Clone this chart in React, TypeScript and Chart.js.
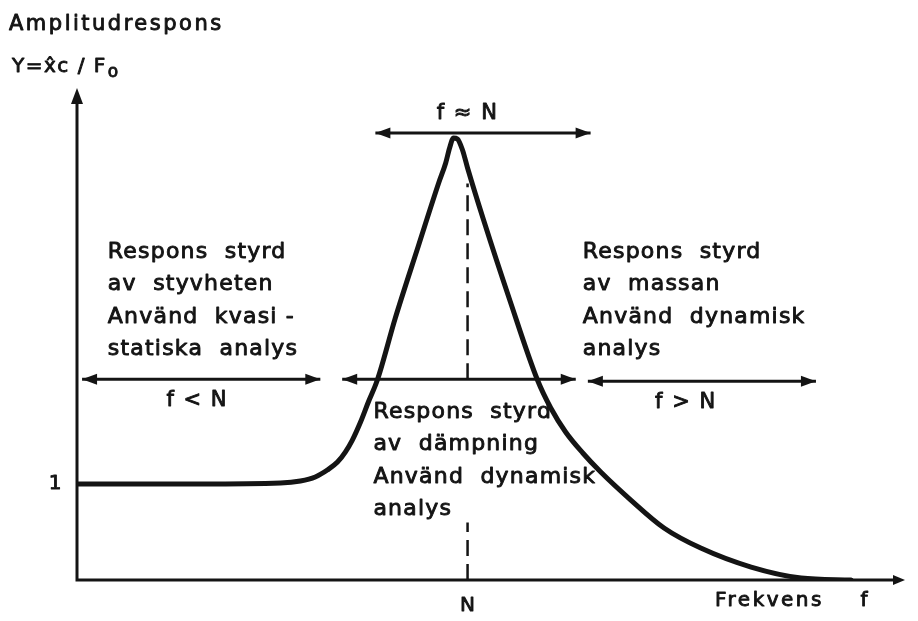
import { useEffect, useRef } from "react";
import { Chart, registerables } from "chart.js";

Chart.register(...registerables);

// Resonance frequency on the frequency axis (chart units)
const N = 1;
const X_MAX = 2.12;
const Y_MAX = 5.125;

// Amplitude response curve: frequency and amplitude (static response = 1)
const responseFreq = [
  0, 0.315, 0.521, 0.572, 0.61, 0.641, 0.667, 0.687, 0.705, 0.726, 0.746, 0.769,
  0.815, 0.874, 0.926, 0.944, 0.954, 0.964, 0.974, 0.987, 1.0, 1.041, 1.108,
  1.179, 1.213, 1.251, 1.295, 1.341, 1.418, 1.503, 1.597, 1.726, 1.854, 1.982,
];
const responseAmp = [
  1.0, 1.0, 1.01, 1.031, 1.073, 1.146, 1.229, 1.333, 1.458, 1.646, 1.854, 2.083,
  2.729, 3.479, 4.135, 4.344, 4.5, 4.604, 4.594, 4.479, 4.292, 3.75, 2.917,
  2.083, 1.792, 1.542, 1.323, 1.125, 0.833, 0.542, 0.333, 0.135, 0.021, 0,
];

// Frequency ranges shown as double arrows
const rangeFrom = [0.013, 0.679, 0.764, 1.308];
const rangeTo = [0.623, 1.277, 1.315, 1.892];
const rangeLevel = [2.09, 2.09, 4.656, 2.07];
const rangeLabels = ["f < N", "", "f \u2248 N", "f > N"];
const rangeLabelX = [0.308, 0, 1.0, 1.559];
const rangeLabelBelow = [true, true, false, true];

// Dashed marker at f = N (broken where the damping note sits)
const markerAmp = [0, 0.6, null, 2.09, 4.13];

// Notes for each region
const stiffnessNote = ["Respons  styrd", "av  styvheten", "Använd  kvasi -", "statiska  analys"];
const dampingNote = ["Respons  styrd", "av  dämpning", "Använd  dynamisk", "analys"];
const massNote = ["Respons  styrd", "av  massan", "Använd  dynamisk", "analys"];
const noteX = [0.079, 0.759, 1.295];
const noteTopY = [3.417, 1.75, 3.417];

const yTickValues = [1];
const yTickLabels = ["1"];
const xTickValues = [N];
const xTickLabels = ["N"];

const ink = "#141414";
const FONT = "'DejaVu Sans', sans-serif";

function arrowHead(
  ctx: CanvasRenderingContext2D,
  x: number,
  y: number,
  dx: number,
  dy: number,
  len: number,
  half: number
) {
  ctx.beginPath();
  ctx.moveTo(x, y);
  ctx.lineTo(x - dx * len - dy * half, y - dy * len + dx * half);
  ctx.lineTo(x - dx * len + dy * half, y - dy * len - dx * half);
  ctx.closePath();
  ctx.fill();
}

function spacedText(
  ctx: CanvasRenderingContext2D,
  text: string,
  x: number,
  y: number,
  size: number,
  spacing: number,
  align: CanvasTextAlign = "left"
) {
  ctx.font = `${size}px ${FONT}`;
  (ctx as any).letterSpacing = `${spacing}px`;
  ctx.textAlign = align;
  ctx.textBaseline = "middle";
  ctx.lineWidth = 0.9;
  ctx.lineJoin = "round";
  ctx.strokeStyle = ink;
  ctx.fillText(text, x, y);
  ctx.strokeText(text, x, y);
  (ctx as any).letterSpacing = "0px";
}

const diagramPlugin = {
  id: "diagramDecor",
  beforeDatasetsDraw(chart: any) {
    const { ctx, chartArea, scales } = chart;
    const y0 = scales.y.getPixelForValue(0);
    const x0 = scales.x.getPixelForValue(0);
    ctx.save();
    ctx.strokeStyle = ink;
    ctx.fillStyle = ink;
    ctx.lineWidth = 3;
    ctx.beginPath();
    ctx.moveTo(x0, y0);
    ctx.lineTo(x0, chartArea.top + 8);
    ctx.moveTo(x0 - 1.5, y0);
    ctx.lineTo(chartArea.right - 6, y0);
    ctx.stroke();
    arrowHead(ctx, x0, chartArea.top, 0, -1, 16, 6);
    arrowHead(ctx, chartArea.right, y0, 1, 0, 12, 5);
    ctx.restore();
  },
  afterDatasetsDraw(chart: any) {
    const { ctx, scales } = chart;
    const sx = scales.x;
    const sy = scales.y;
    ctx.save();
    ctx.fillStyle = ink;

    // arrowheads and labels of the frequency ranges
    rangeFrom.forEach((_, i) => {
      const meta = chart.getDatasetMeta(i + 2);
      const a = meta.data[0];
      const b = meta.data[1];
      arrowHead(ctx, a.x, a.y, -1, 0, 15, 5.5);
      arrowHead(ctx, b.x, b.y, 1, 0, 15, 5.5);
      if (rangeLabels[i]) {
        const ly = sy.getPixelForValue(rangeLevel[i]) + (rangeLabelBelow[i] ? 21 : -19);
        spacedText(ctx, rangeLabels[i], sx.getPixelForValue(rangeLabelX[i]), ly, 21, 1.5, "center");
      }
    });

    // region notes
    [stiffnessNote, dampingNote, massNote].forEach((lines, k) => {
      const left = sx.getPixelForValue(noteX[k]);
      const top = sy.getPixelForValue(noteTopY[k]);
      lines.forEach((line, j) => {
        spacedText(ctx, line, left, top + j * 32.5, 22, 1.2, "left");
      });
    });

    // tick labels
    yTickValues.forEach((v, i) => {
      spacedText(ctx, yTickLabels[i], sx.getPixelForValue(0) - 22, sy.getPixelForValue(v), 20, 0, "center");
    });
    xTickValues.forEach((v, i) => {
      spacedText(ctx, xTickLabels[i], sx.getPixelForValue(v), sy.getPixelForValue(0) + 26, 20, 0, "center");
    });

    // axis titles
    spacedText(ctx, "Frekvens", 715, 601, 20, 2.5, "left");
    spacedText(ctx, "f", 864, 601, 20, 0, "center");
    spacedText(ctx, "Amplitudrespons", 9, 25, 21, 2.5, "left");
    spacedText(ctx, "Y=x\u0302c / F", 12, 67, 20, 1.5, "left");
    spacedText(ctx, "o", 113, 73, 17, 0, "center");
    ctx.restore();
  },
};

export default function App() {
  const canvasRef = useRef<HTMLCanvasElement | null>(null);

  useEffect(() => {
    const canvas = canvasRef.current;
    if (!canvas) return;

    const rangeSets = rangeFrom.map((from, i) => ({
      label: rangeLabels[i] || "range",
      data: [
        { x: from, y: rangeLevel[i] },
        { x: rangeTo[i], y: rangeLevel[i] },
      ],
      borderColor: ink,
      borderWidth: 3,
      pointRadius: 0,
      tension: 0,
    }));

    const chart = new Chart(canvas, {
      type: "line",
      data: {
        datasets: [
          {
            label: "Amplitudrespons",
            data: responseFreq.map((f, i) => ({ x: f, y: responseAmp[i] })),
            borderColor: ink,
            borderWidth: 5,
            pointRadius: 0,
            cubicInterpolationMode: "monotone",
            borderCapStyle: "round",
            borderJoinStyle: "round",
          },
          {
            label: "f = N",
            data: markerAmp.map((a) => ({ x: N, y: a })),
            borderColor: ink,
            borderWidth: 2.5,
            borderDash: [16, 8],
            pointRadius: 0,
            spanGaps: false,
          },
          ...rangeSets,
        ] as any,
      },
      options: {
        responsive: false,
        animation: false,
        layout: { padding: { left: 77, right: 13, top: 88, bottom: 41 } },
        plugins: {
          legend: { display: false },
          tooltip: { enabled: false },
        },
        scales: {
          x: { type: "linear", min: 0, max: X_MAX, display: false },
          y: { type: "linear", min: 0, max: Y_MAX, display: false },
        },
      },
      plugins: [diagramPlugin],
    });

    return () => chart.destroy();
  }, []);

  return (
    <div style={{ position: "fixed", left: 0, top: 0, width: 918, height: 621, background: "#fff" }}>
      <canvas ref={canvasRef} width={918} height={621} style={{ display: "block" }} />
    </div>
  );
}
